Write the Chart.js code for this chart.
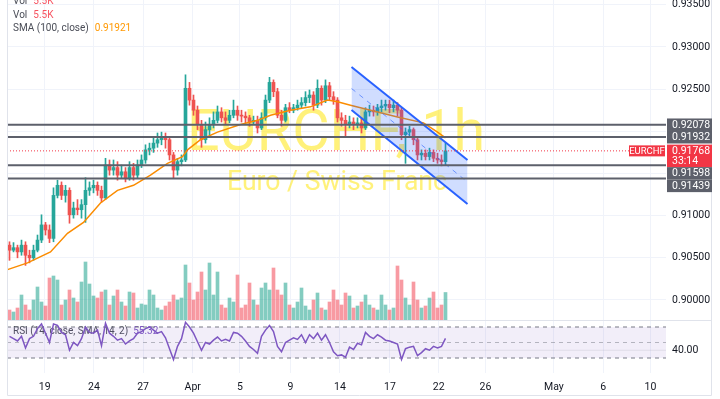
<!DOCTYPE html>
<html>
<head>
<meta charset="utf-8">
<script src="https://cdn.jsdelivr.net/npm/chart.js@4.4.1/dist/chart.umd.min.js"></script>
<style>
  html, body { margin: 0; padding: 0; background: #fff; }
  #wrap { width: 720px; height: 399px; }
</style>
</head>
<body>
<div id="wrap"><canvas id="chart" width="720" height="399"></canvas></div>
<script>
// EURCHF 1h - candles grouped roughly 4px per bar

const firstOpen = 0.9065;
const closes = [
  0.9059, 0.9062, 0.9057, 0.9065, 0.9053, 0.9050, 0.9059, 0.9071, 0.9089, 0.9083,
  0.9073, 0.9124, 0.9136, 0.9124, 0.9130, 0.9101, 0.9109, 0.9107, 0.9113, 0.9130,
  0.9133, 0.9136, 0.9130, 0.9121, 0.9160, 0.9154, 0.9157, 0.9148, 0.9152, 0.9145,
  0.9157, 0.9148, 0.9160, 0.9166, 0.9178, 0.9180, 0.9186, 0.9190, 0.9193, 0.9190,
  0.9172, 0.9154, 0.9164, 0.9166, 0.9251, 0.9237, 0.9225, 0.9208, 0.9190, 0.9202,
  0.9208, 0.9213, 0.9223, 0.9216, 0.9213, 0.9219, 0.9225, 0.9219, 0.9218, 0.9216,
  0.9211, 0.9213, 0.9204, 0.9216, 0.9237, 0.9258, 0.9247, 0.9219, 0.9213, 0.9228,
  0.9225, 0.9228, 0.9231, 0.9234, 0.9240, 0.9243, 0.9231, 0.9251, 0.9237, 0.9254,
  0.9241, 0.9237, 0.9216, 0.9213, 0.9208, 0.9211, 0.9208, 0.9210, 0.9204, 0.9223,
  0.9225, 0.9223, 0.9228, 0.9230, 0.9232, 0.9228, 0.9231, 0.9225, 0.9196, 0.9199,
  0.9202, 0.9190, 0.9172, 0.9174, 0.9170, 0.9175, 0.9168, 0.9166, 0.9164, 0.91768,
];
const highs = [
  0.9069, 0.9068, 0.9065, 0.9071, 0.9069, 0.9059, 0.9065, 0.9077, 0.9101, 0.9092,
  0.9089, 0.9133, 0.9142, 0.9140, 0.9136, 0.9133, 0.9116, 0.9119, 0.9119, 0.9145,
  0.9140, 0.9142, 0.9140, 0.9135, 0.9168, 0.9166, 0.9166, 0.9164, 0.9160, 0.9157,
  0.9164, 0.9162, 0.9166, 0.9172, 0.9184, 0.9186, 0.9192, 0.9198, 0.9199, 0.9198,
  0.9192, 0.9175, 0.9168, 0.9172, 0.9267, 0.9258, 0.9243, 0.9230, 0.9213, 0.9211,
  0.9216, 0.9223, 0.9230, 0.9228, 0.9223, 0.9225, 0.9237, 0.9230, 0.9225, 0.9223,
  0.9219, 0.9218, 0.9218, 0.9222, 0.9243, 0.9264, 0.9261, 0.9251, 0.9225, 0.9232,
  0.9234, 0.9232, 0.9237, 0.9240, 0.9247, 0.9249, 0.9247, 0.9261, 0.9254, 0.9261,
  0.9258, 0.9247, 0.9240, 0.9222, 0.9219, 0.9218, 0.9216, 0.9216, 0.9216, 0.9228,
  0.9231, 0.9230, 0.9232, 0.9237, 0.9237, 0.9237, 0.9237, 0.9234, 0.9228, 0.9204,
  0.9206, 0.9204, 0.9192, 0.9178, 0.9178, 0.9180, 0.9178, 0.9174, 0.9172, 0.9186,
];
const lows = [
  0.9047, 0.9057, 0.9050, 0.9053, 0.9041, 0.9044, 0.9047, 0.9057, 0.9068, 0.9077,
  0.9068, 0.9069, 0.9121, 0.9119, 0.9116, 0.9091, 0.9097, 0.9101, 0.9097, 0.9092,
  0.9124, 0.9127, 0.9124, 0.9116, 0.9119, 0.9148, 0.9148, 0.9142, 0.9145, 0.9140,
  0.9142, 0.9142, 0.9145, 0.9157, 0.9162, 0.9172, 0.9175, 0.9181, 0.9184, 0.9180,
  0.9166, 0.9145, 0.9148, 0.9159, 0.9164, 0.9231, 0.9219, 0.9202, 0.9181, 0.9186,
  0.9196, 0.9204, 0.9210, 0.9211, 0.9208, 0.9210, 0.9216, 0.9213, 0.9211, 0.9210,
  0.9206, 0.9208, 0.9198, 0.9202, 0.9213, 0.9234, 0.9241, 0.9216, 0.9206, 0.9211,
  0.9222, 0.9222, 0.9225, 0.9228, 0.9230, 0.9234, 0.9225, 0.9228, 0.9231, 0.9234,
  0.9237, 0.9232, 0.9211, 0.9206, 0.9193, 0.9204, 0.9202, 0.9204, 0.9198, 0.9202,
  0.9218, 0.9218, 0.9219, 0.9223, 0.9225, 0.9222, 0.9223, 0.9218, 0.9190, 0.9162,
  0.9193, 0.9184, 0.9166, 0.9166, 0.9166, 0.9166, 0.9164, 0.9162, 0.9159, 0.9160,
];
// volume in thousands
const volumes = [
  2.0, 1.6, 2.4, 5.0, 3.0, 2.0, 4.0, 6.6, 3.6, 2.8,
  8.4, 8.8, 8.0, 3.0, 4.0, 6.0, 4.4, 3.6, 7.6, 11.6,
  7.2, 4.8, 4.4, 5.6, 6.0, 3.0, 4.8, 6.0, 3.6, 2.8,
  5.6, 5.4, 2.4, 3.2, 3.0, 6.0, 5.0, 2.4, 2.0, 2.8,
  3.6, 5.0, 4.0, 4.4, 11.0, 7.4, 4.0, 5.6, 9.6, 6.0,
  11.4, 5.0, 9.6, 3.0, 2.4, 4.4, 3.6, 9.0, 2.4, 3.0,
  7.4, 4.0, 3.0, 6.4, 7.4, 6.0, 10.4, 6.0, 5.0, 7.4,
  3.0, 2.4, 3.6, 6.4, 2.8, 2.0, 4.0, 5.4, 2.4, 2.0,
  3.6, 6.0, 4.0, 3.0, 5.4, 4.8, 2.4, 2.8, 3.6, 5.0,
  3.0, 2.4, 2.0, 5.0, 3.0, 2.0, 2.4, 10.8, 8.0, 4.4,
  3.0, 7.6, 4.0, 2.4, 2.8, 4.4, 5.6, 2.4, 3.0, 5.5,
];
const rsiValues = [
  58, 55, 52, 58, 43, 55, 58, 68, 74, 62,
  50, 74, 72, 63, 60, 40, 50, 46, 55, 70,
  63, 62, 66, 46, 75, 62, 58, 53, 55, 48,
  52, 55, 62, 64, 68, 70, 66, 62, 64, 56,
  42, 28, 45, 55, 76, 70, 62, 51, 40, 50,
  48, 53, 57, 52, 54, 52, 63, 62, 58, 52,
  45, 41, 36, 58, 66, 72, 64, 45, 38, 50,
  53, 56, 54, 60, 50, 60, 55, 62, 53, 60,
  50, 38, 33, 34, 31, 44, 41, 49, 47, 63,
  58, 55, 60, 57, 53, 52, 50, 48, 28, 42,
  44, 45, 33, 37, 42, 40, 45, 43, 45, 55.3,
];

// SMA(100) read at a few bar positions
const smaIdx = [0, 5, 10.75, 15, 19, 23.25, 27.5, 31.5, 35.75, 40, 43.75, 45, 48.25, 52.5,
  58.25, 62.5, 65.75, 70.75, 75.75, 80, 82.5, 85.75, 90.75, 97.5, 104, 107.5, 109.5];
const smaValues = [0.9036, 0.9044, 0.9057, 0.9079, 0.9092, 0.9115, 0.9130, 0.9136, 0.9148,
  0.9162, 0.9170, 0.9178, 0.9190, 0.9199, 0.9208, 0.9213, 0.9219, 0.9225, 0.9229, 0.9237,
  0.9235, 0.9231, 0.9225, 0.9217, 0.9210, 0.9199, 0.91921];

// descending channel (start / end bar)
const channelIdx = [86, 115];
const channelUpper = [0.92763, 0.9166];
const channelMid = [0.92508, 0.91399];
const channelLower = [0.92253, 0.91138];

const levels = [0.92078, 0.91932, 0.91598, 0.91439];
const lastPrice = 0.91768;
const countdown = "33:14";

const priceTicks = [0.935, 0.93, 0.925, 0.92, 0.915, 0.91, 0.905, 0.9];
const dateTicks = ["19", "24", "27", "Apr", "5", "9", "14", "17", "22", "26", "May", "6", "10"];
const dateTickIdx = [9.3, 21.6, 33.9, 46.3, 58.1, 70.75, 83.1, 95.6, 107.8, 119.5, 136.6, 148.9, 160.75];

// axis ranges so the panes sit like in TradingView
const xMin = -0.125, xMax = 164.625;
const priceMin = 0.89134, priceMax = 0.93557;
const volMin = -10.6, volMax = 64;
const rsiMin = 10.65, rsiMax = 491.9;

const UP = "#26a69a", DOWN = "#ef5350";
const FONT = "Roboto, 'Liberation Sans', sans-serif";
Chart.defaults.font.family = FONT;

const opens = closes.map((c, i) => (i === 0 ? firstOpen : closes[i - 1]));
const isUp = closes.map((c, i) => c >= opens[i]);
const idx = closes.map((_, i) => i + 0.5);
const pts = (xs, ys) => xs.map((x, i) => ({ x: x, y: ys[i] }));
const span = (v) => [{ x: xMin, y: v }, { x: xMax, y: v }];

function line(data, color, width, extra) {
  return Object.assign({
    type: "line",
    data: data,
    borderColor: color,
    borderWidth: width,
    pointRadius: 0,
    pointHoverRadius: 0,
    fill: false,
    tension: 0,
  }, extra);
}

function fitText(ctx, text, x, y, w, font) {
  ctx.font = font;
  const m = ctx.measureText(text).width;
  ctx.save();
  ctx.translate(x, y);
  ctx.scale(w / m, 1);
  ctx.fillText(text, 0, 0);
  ctx.restore();
}

const overlay = {
  id: "overlay",
  beforeDatasetsDraw(chart) {
    const ctx = chart.ctx;
    ctx.save();
    // watermark
    ctx.fillStyle = "rgba(255, 232, 40, 0.62)";
    ctx.textAlign = "left";
    ctx.textBaseline = "alphabetic";
    fitText(ctx, "EURCHF, 1h", 187, 150, 298, "58px " + FONT);
    fitText(ctx, "Euro / Swiss Franc", 227, 190, 220, "27px " + FONT);
    // rsi legend
    ctx.textBaseline = "middle";
    ctx.font = "10px " + FONT;
    const t = "RSI (14, close, SMA, 14, 2)";
    ctx.fillStyle = "#4a4d57";
    ctx.fillText(t, 13, 331);
    ctx.fillStyle = "#7e57c2";
    ctx.fillText("55.32", 13 + ctx.measureText(t).width + 5, 331);
    ctx.restore();
  },
  afterDraw(chart) {
    const { ctx, chartArea: a, scales } = chart;
    const yS = scales.y, rS = scales.rsi, vS = scales.vol;
    ctx.save();

    // frame and pane separator
    ctx.strokeStyle = "#e0e3eb";
    ctx.lineWidth = 1;
    const sep = Math.round(vS.getPixelForValue(0)) + 0.5;
    ctx.beginPath();
    ctx.moveTo(a.left, sep);
    ctx.lineTo(711.5, sep);
    ctx.moveTo(a.left + 0.5, 0);
    ctx.lineTo(a.left + 0.5, 395.5);
    ctx.lineTo(711.5, 395.5);
    ctx.lineTo(711.5, 0);
    ctx.stroke();

    // legend top-left
    ctx.font = "10px " + FONT;
    ctx.textBaseline = "middle";
    ctx.textAlign = "left";
    const legend = [
      ["Vol", "5.5K", "#f7525f", 1],
      ["Vol", "5.5K", "#f7525f", 15],
      ["SMA (100, close)", smaValues[smaValues.length - 1].toFixed(5), "#ff9800", 28],
    ];
    legend.forEach(([label, val, col, y]) => {
      ctx.fillStyle = "#4a4d57";
      ctx.fillText(label, 13, y);
      ctx.fillStyle = col;
      ctx.fillText(val, 13 + ctx.measureText(label).width + 6, y);
    });

    // price tags on the right scale
    const tags = levels.map((v) => ({ v: v, h: 12.5, bg: "#5d606b" }));
    tags.push({ v: lastPrice, h: 22.5, bg: "#f23645", sub: countdown });
    tags.forEach((t) => { t.top = yS.getPixelForValue(t.v) - 6.25; });
    tags.sort((p, q) => p.top - q.top);
    for (let i = 1; i < tags.length; i++) {
      tags[i].top = Math.max(tags[i].top, tags[i - 1].top + tags[i - 1].h);
    }
    ctx.font = "10.5px " + FONT;
    tags.forEach((t) => {
      ctx.fillStyle = t.bg;
      ctx.fillRect(a.right + 1, t.top, 45, t.h);
      ctx.fillStyle = "#fff";
      ctx.fillText(t.v.toFixed(5), a.right + 6, t.top + 6.5);
      if (t.sub) ctx.fillText(t.sub, a.right + 6, t.top + 16.5);
    });

    // symbol tag
    const py = yS.getPixelForValue(lastPrice);
    ctx.fillStyle = "#f23645";
    ctx.fillRect(a.right - 37, py - 5.5, 36, 11);
    ctx.fillStyle = "#fff";
    ctx.font = "9.5px " + FONT;
    ctx.textAlign = "center";
    ctx.fillText("EURCHF", a.right - 19, py + 0.5);

    // rsi scale label
    ctx.textAlign = "left";
    ctx.font = "10.5px " + FONT;
    ctx.fillStyle = "#131722";
    ctx.fillText("40.00", a.right + 6, rS.getPixelForValue(40));
    ctx.restore();
  },
};

const ctx = document.getElementById("chart").getContext("2d");

new Chart(ctx, {
  type: "line",
  data: {
    datasets: [
      // rsi band
      line(span(70), "#787b86", 1, { yAxisID: "rsi", borderDash: [4, 4], fill: "+1", backgroundColor: "rgba(126, 87, 194, 0.1)", order: 100 }),
      line(span(30), "#787b86", 1, { yAxisID: "rsi", borderDash: [4, 4], order: 99 }),
      line(span(50), "rgba(120, 123, 134, 0.5)", 1, { yAxisID: "rsi", borderDash: [4, 4], order: 98 }),
      line(span(40), "rgba(120, 123, 134, 0.15)", 1, { yAxisID: "rsi", order: 97 }),
      // volume
      {
        type: "bar",
        yAxisID: "vol",
        data: pts(idx, volumes),
        backgroundColor: isUp.map((u) => (u ? "rgba(8, 153, 129, 0.5)" : "rgba(242, 54, 69, 0.5)")),
        barThickness: 3,
        grouped: false,
        order: 90,
      },
      // candle wicks
      {
        type: "bar",
        yAxisID: "y",
        data: idx.map((x, i) => ({ x: x, y: [lows[i], highs[i]] })),
        backgroundColor: isUp.map((u) => (u ? UP : DOWN)),
        barThickness: 1,
        grouped: false,
        order: 31,
      },
      // candle bodies
      {
        type: "bar",
        yAxisID: "y",
        data: idx.map((x, i) => ({ x: x, y: [opens[i], closes[i]] })),
        backgroundColor: isUp.map((u) => (u ? UP : DOWN)),
        barThickness: 3,
        minBarLength: 1,
        grouped: false,
        order: 30,
      },
      // SMA 100
      line(pts(smaIdx, smaValues), "#fb8c00", 1.5, { yAxisID: "y", order: 25 }),
      // channel
      line(pts(channelIdx, channelUpper), "#2962ff", 2, { yAxisID: "y", fill: "+1", backgroundColor: "rgba(41, 98, 255, 0.22)", order: 20 }),
      line(pts(channelIdx, channelLower), "#2962ff", 2, { yAxisID: "y", order: 19 }),
      line(pts(channelIdx, channelMid), "rgba(41, 98, 255, 0.6)", 1, { yAxisID: "y", borderDash: [5, 5], order: 18 }),
      // horizontal levels
      ...levels.map((v) => line(span(v), "#5d606b", 2, { yAxisID: "y", order: 10 })),
      line(span(lastPrice), "#f23645", 1, { yAxisID: "y", borderDash: [1, 2], order: 9 }),
      // rsi
      line(pts(idx, rsiValues), "#7e57c2", 1.5, { yAxisID: "rsi", order: 5 }),
    ],
  },
  options: {
    responsive: false,
    animation: false,
    devicePixelRatio: 1,
    events: [],
    layout: { padding: { left: 7, right: 0, top: 0, bottom: 0 } },
    plugins: {
      legend: { display: false },
      tooltip: { enabled: false },
    },
    scales: {
      x: {
        type: "linear",
        min: xMin,
        max: xMax,
        offset: false,
        grid: { color: "#f0f3fa", offset: false, drawTicks: false },
        border: { display: false },
        afterBuildTicks: (s) => { s.ticks = dateTickIdx.map((v) => ({ value: v })); },
        afterFit: (s) => {
          s.height = 26;
          s.paddingLeft = 0;
          s.paddingRight = 0;
        },
        ticks: {
          autoSkip: false,
          maxRotation: 0,
          padding: 8,
          color: "#131722",
          font: { size: 10.5 },
          callback: (v, i) => dateTicks[i],
        },
      },
      y: {
        type: "linear",
        position: "right",
        min: priceMin,
        max: priceMax,
        grid: { color: "#f0f3fa", drawTicks: false },
        border: { display: false },
        afterBuildTicks: (s) => { s.ticks = priceTicks.map((v) => ({ value: v })); },
        afterFit: (s) => {
          s.width = 54;
          s.paddingTop = 0;
          s.paddingBottom = 0;
        },
        ticks: {
          padding: 6,
          color: "#131722",
          font: { size: 10.5 },
          callback: (v) => v.toFixed(5),
        },
      },
      vol: { type: "linear", axis: "y", position: "left", display: false, min: volMin, max: volMax },
      rsi: { type: "linear", axis: "y", position: "left", display: false, min: rsiMin, max: rsiMax },
    },
  },
  plugins: [overlay],
});
</script>
</body>
</html>
